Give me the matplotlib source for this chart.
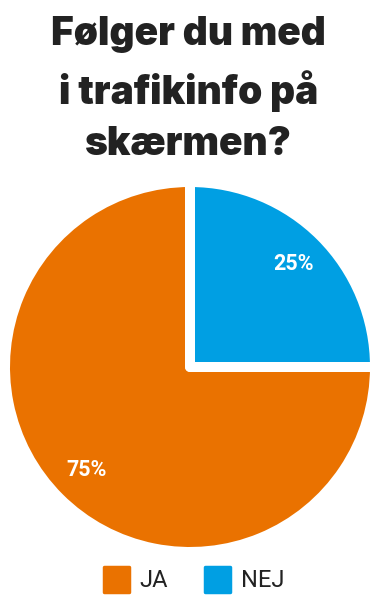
import matplotlib
matplotlib.use('Agg')
import matplotlib.pyplot as plt
from matplotlib.lines import Line2D
from matplotlib.markers import MarkerStyle

# data
labels = ["JA", "NEJ"]
shares = [75, 25]
colors = ["#EA7200", "#009FE3"]
title = "Følger du med\ni trafikinfo på\nskærmen?"

fig = plt.figure(figsize=(3.7, 6.0), dpi=100)
fig.patch.set_facecolor("white")

# title
fig.text(0.51, 0.973, title, ha="center", va="top", fontsize=28,
         fontweight="black", family=["Inter", "DejaVu Sans"], color="#222222",
         linespacing=1.5)

# pie
ax = fig.add_axes([0.0135, 0.08, 1.0, 370 / 600])
wedges, texts, autotexts = ax.pie(
    shares, colors=colors, startangle=90, counterclock=True,
    autopct="%d%%", pctdistance=0.79, radius=1.0,
    wedgeprops=dict(edgecolor="white", linewidth=7.2, joinstyle="round"),
    textprops=dict(color="white", fontsize=15.5, fontweight="bold",
                   family=["Roboto", "DejaVu Sans"]))
for w in wedges:
    w.set_clip_on(False)
ax.set_xlim(-1, 1)
ax.set_ylim(-1, 1)
ax.set_aspect("equal")
ax.axis("off")

# legend
sq = MarkerStyle("s", joinstyle="round")
handles = [Line2D([], [], marker=sq, linestyle="none", markersize=18,
                  markeredgewidth=2.5, markerfacecolor=c, markeredgecolor=c)
           for c in colors]
fig.legend(handles, labels, loc="lower center", bbox_to_anchor=(0.525, -0.022),
           ncol=2, frameon=False, handlelength=1.0, handletextpad=0.5,
           columnspacing=1.6, prop=dict(family=["Roboto", "DejaVu Sans"], size=17),
           labelcolor="#222222")

fig.savefig("out.png", dpi=100)
